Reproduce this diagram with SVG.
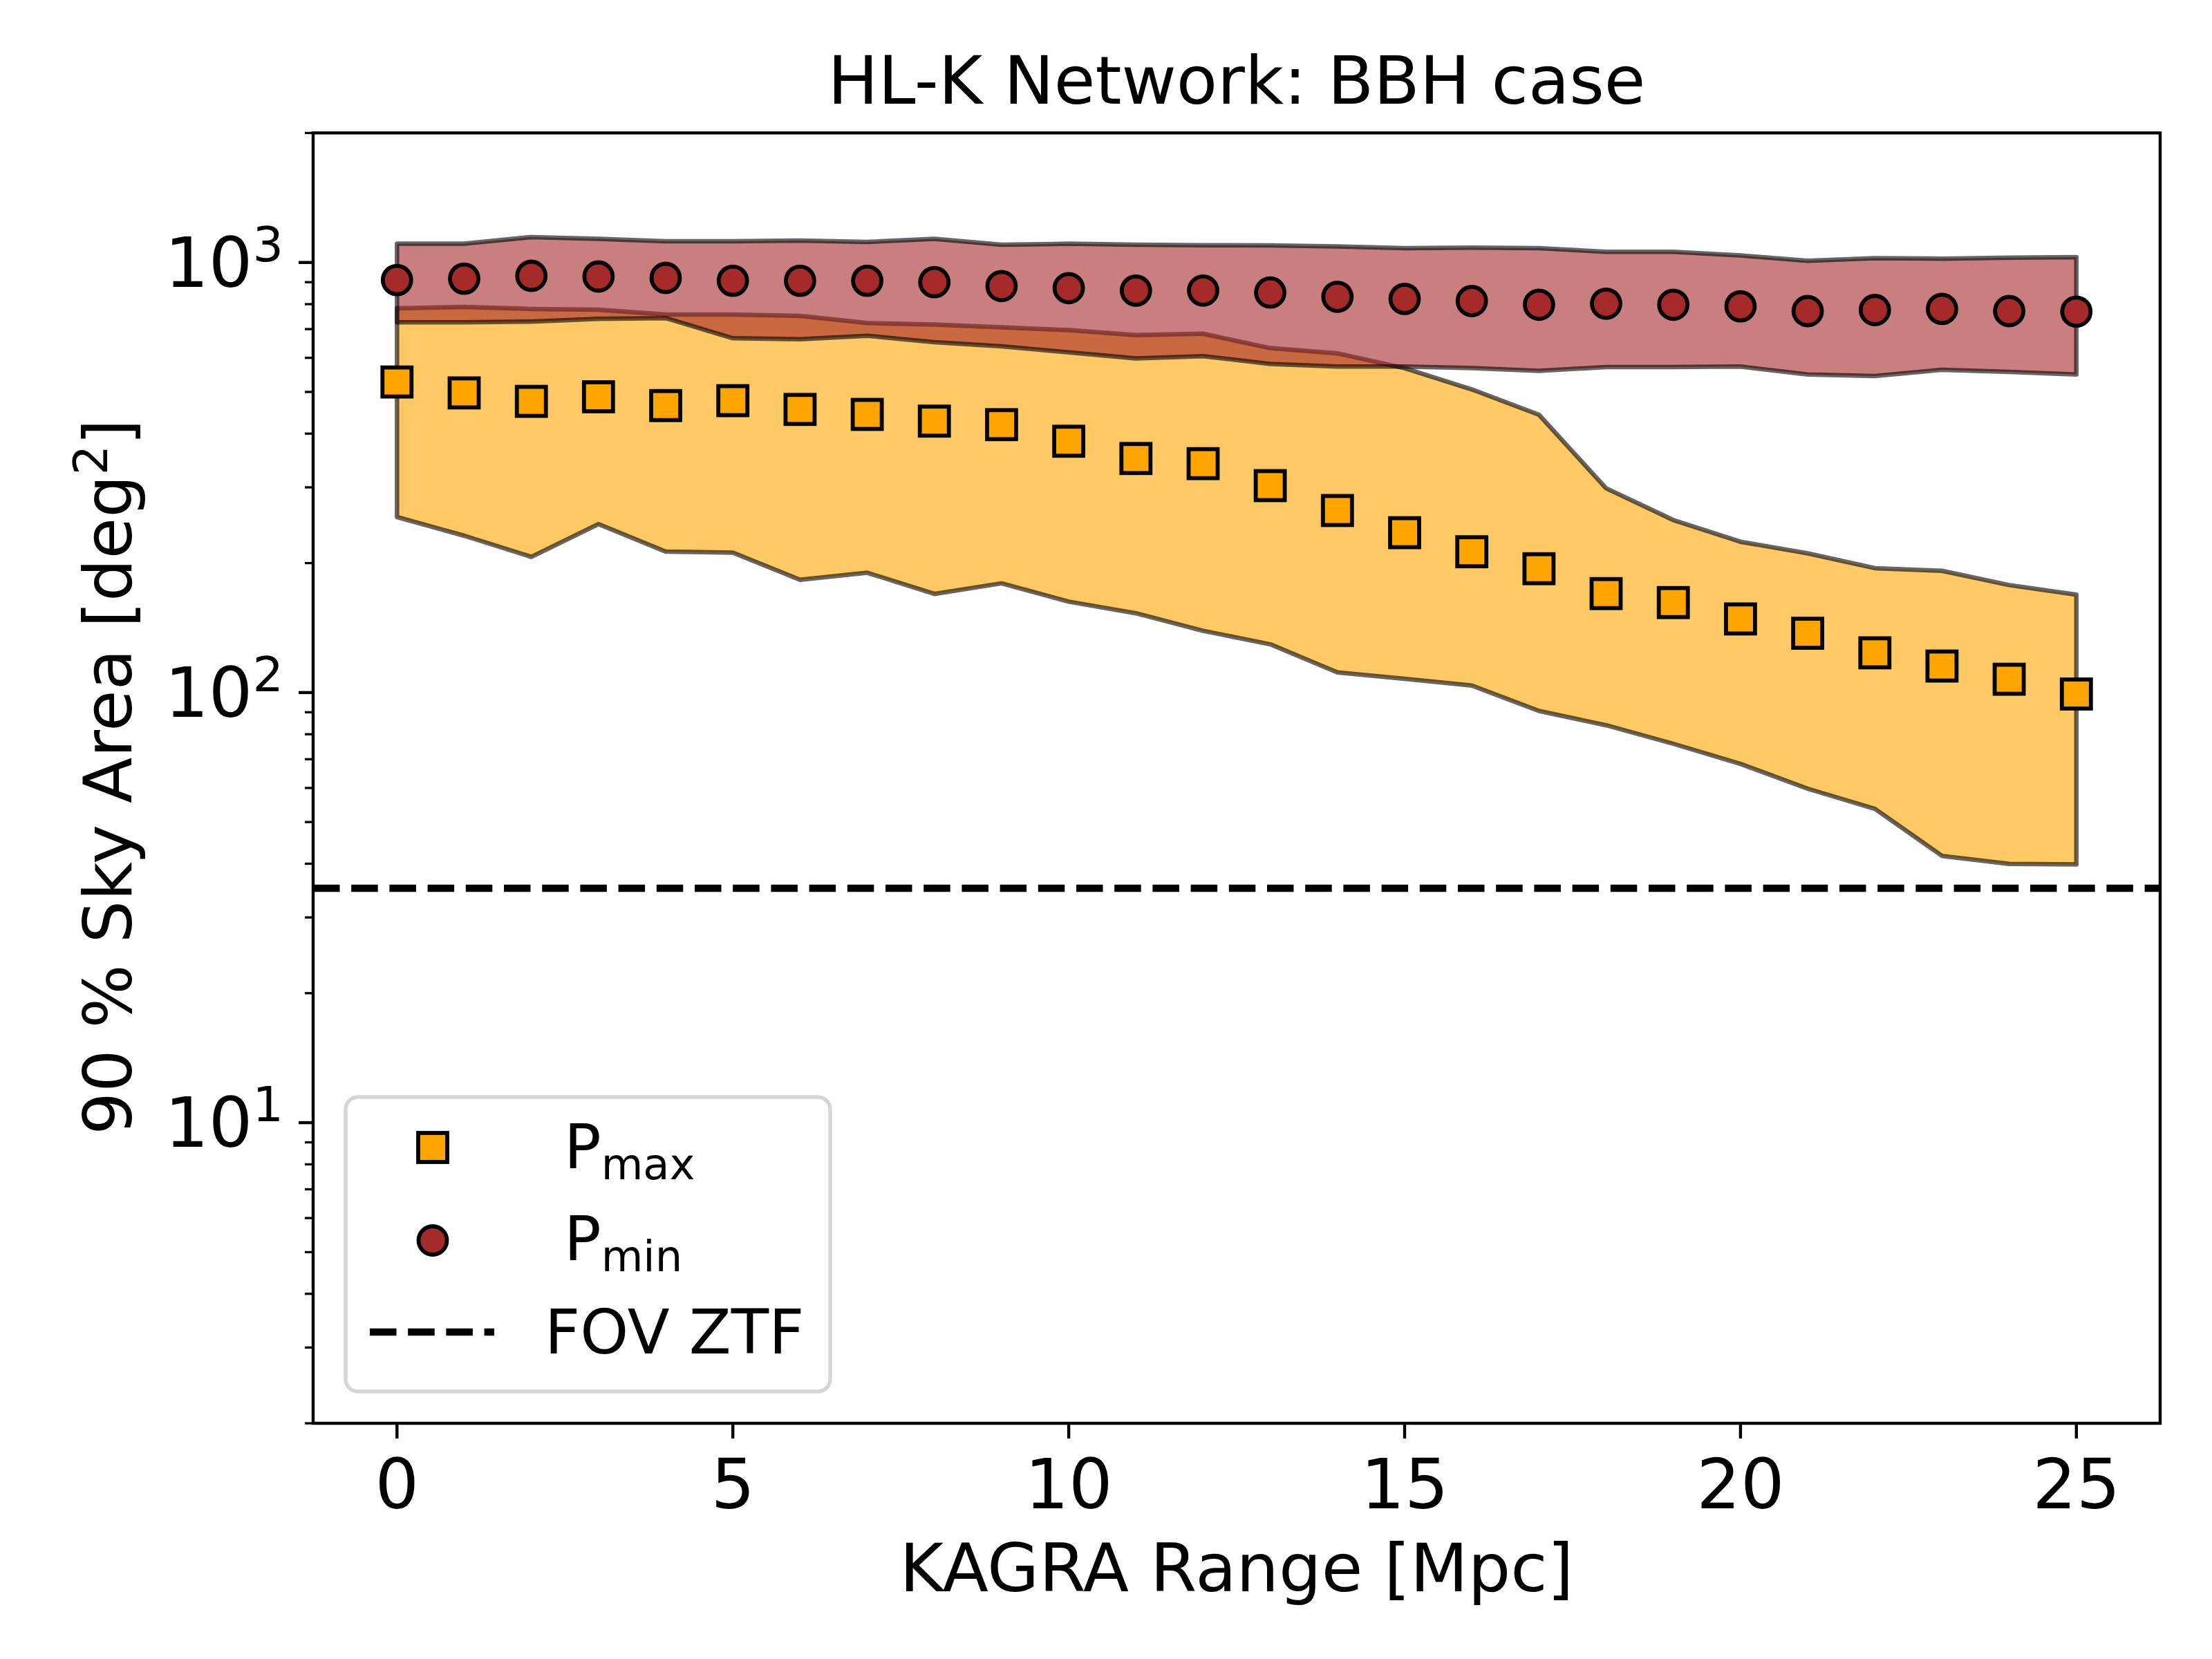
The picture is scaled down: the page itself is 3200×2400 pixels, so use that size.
<svg xmlns="http://www.w3.org/2000/svg" width="3200" height="2400" viewBox="0 0 3200 2400">
<style>
text{font-family:"DejaVu Sans","Liberation Sans",sans-serif;fill:#000}
.lbl{font-size:97px}
.tk{font-size:100px}
.lg{font-size:89px}
.mj{stroke:#000;stroke-width:4.4}
.mn{stroke:#000;stroke-width:3.3}
.band{stroke:#000;stroke-opacity:0.6;stroke-width:6.5;stroke-linejoin:round}
.sq{fill:#ffa500;stroke:#000;stroke-width:5.8}
.ci{fill:#a52a2a;stroke:#000;stroke-width:5.8}
</style>
<rect width="3200" height="2400" fill="#fff"/>
<g id="bands">
<polygon class="band" fill="#ffa500" fill-opacity="0.6" points="574.3,445.9 671.5,443.9 768.7,446.9 865.8,448.0 963.0,455.1 1060.2,455.1 1157.4,457.1 1254.6,467.3 1351.7,469.4 1448.9,473.5 1546.1,477.6 1643.3,484.7 1740.5,482.8 1837.6,503.6 1934.8,511.2 2032.0,532.6 2129.2,563.3 2226.4,600.0 2323.5,706.4 2420.7,752.3 2517.9,783.7 2615.1,800.5 2712.3,821.9 2809.4,825.8 2906.6,846.4 3003.8,860.2 3003.8,1250.5 2906.6,1249.7 2809.4,1238.2 2712.3,1170.1 2615.1,1141.0 2517.9,1105.1 2420.7,1076.0 2323.5,1049.2 2226.4,1028.5 2129.2,991.8 2032.0,981.9 1934.8,972.7 1837.6,932.1 1740.5,912.6 1643.3,887.2 1546.1,870.4 1448.9,843.9 1351.7,859.2 1254.6,828.6 1157.4,838.8 1060.2,799.5 963.0,798.0 865.8,758.2 768.7,805.6 671.5,775.0 574.3,748.0"/>
<polygon class="band" fill="#a52a2a" fill-opacity="0.6" points="574.3,352.6 671.5,352.6 768.7,342.9 865.8,345.4 963.0,349.0 1060.2,349.0 1157.4,348.0 1254.6,350.0 1351.7,345.4 1448.9,354.1 1546.1,352.6 1643.3,354.1 1740.5,354.7 1837.6,355.1 1934.8,356.6 2032.0,358.9 2129.2,358.2 2226.4,358.9 2323.5,364.3 2420.7,364.3 2517.9,369.6 2615.1,377.3 2712.3,373.5 2809.4,374.2 2906.6,372.7 3003.8,371.9 3003.8,541.8 2906.6,538.0 2809.4,534.9 2712.3,544.1 2615.1,541.8 2517.9,530.3 2420.7,531.1 2323.5,531.1 2226.4,536.5 2129.2,532.6 2032.0,530.3 1934.8,530.3 1837.6,526.5 1740.5,515.2 1643.3,518.4 1546.1,509.7 1448.9,501.0 1351.7,494.9 1254.6,485.7 1157.4,490.8 1060.2,489.3 963.0,460.2 865.8,461.2 768.7,465.3 671.5,466.3 574.3,466.3"/>
</g>
<g id="fov-line">
<line x1="453" y1="1285" x2="3125" y2="1285" stroke="#000" stroke-width="10.4" stroke-dasharray="38.5 16.7"/>
</g>
<g id="pmax-points">
<rect class="sq" x="553.3" y="531.6" width="42" height="42"/>
<rect class="sq" x="650.5" y="547.4" width="42" height="42"/>
<rect class="sq" x="747.7" y="559.6" width="42" height="42"/>
<rect class="sq" x="844.8" y="553.0" width="42" height="42"/>
<rect class="sq" x="942.0" y="565.7" width="42" height="42"/>
<rect class="sq" x="1039.2" y="558.6" width="42" height="42"/>
<rect class="sq" x="1136.4" y="571.3" width="42" height="42"/>
<rect class="sq" x="1233.6" y="578.5" width="42" height="42"/>
<rect class="sq" x="1330.7" y="588.2" width="42" height="42"/>
<rect class="sq" x="1427.9" y="593.3" width="42" height="42"/>
<rect class="sq" x="1525.1" y="617.3" width="42" height="42"/>
<rect class="sq" x="1622.3" y="642.3" width="42" height="42"/>
<rect class="sq" x="1719.5" y="649.7" width="42" height="42"/>
<rect class="sq" x="1816.6" y="681.5" width="42" height="42"/>
<rect class="sq" x="1913.8" y="717.5" width="42" height="42"/>
<rect class="sq" x="2011.0" y="749.6" width="42" height="42"/>
<rect class="sq" x="2108.2" y="777.2" width="42" height="42"/>
<rect class="sq" x="2205.4" y="801.7" width="42" height="42"/>
<rect class="sq" x="2302.5" y="837.7" width="42" height="42"/>
<rect class="sq" x="2399.7" y="850.7" width="42" height="42"/>
<rect class="sq" x="2496.9" y="874.4" width="42" height="42"/>
<rect class="sq" x="2594.1" y="895.1" width="42" height="42"/>
<rect class="sq" x="2691.3" y="923.4" width="42" height="42"/>
<rect class="sq" x="2788.4" y="942.5" width="42" height="42"/>
<rect class="sq" x="2885.6" y="961.6" width="42" height="42"/>
<rect class="sq" x="2982.8" y="983.0" width="42" height="42"/>
</g>
<g id="pmin-points">
<circle class="ci" cx="574.3" cy="405.1" r="20.5"/>
<circle class="ci" cx="671.5" cy="403.1" r="20.5"/>
<circle class="ci" cx="768.7" cy="399.0" r="20.5"/>
<circle class="ci" cx="865.8" cy="400.0" r="20.5"/>
<circle class="ci" cx="963.0" cy="402.0" r="20.5"/>
<circle class="ci" cx="1060.2" cy="406.1" r="20.5"/>
<circle class="ci" cx="1157.4" cy="406.1" r="20.5"/>
<circle class="ci" cx="1254.6" cy="406.1" r="20.5"/>
<circle class="ci" cx="1351.7" cy="408.2" r="20.5"/>
<circle class="ci" cx="1448.9" cy="413.8" r="20.5"/>
<circle class="ci" cx="1546.1" cy="416.8" r="20.5"/>
<circle class="ci" cx="1643.3" cy="420.4" r="20.5"/>
<circle class="ci" cx="1740.5" cy="420.3" r="20.5"/>
<circle class="ci" cx="1837.6" cy="423.2" r="20.5"/>
<circle class="ci" cx="1934.8" cy="429.3" r="20.5"/>
<circle class="ci" cx="2032.0" cy="432.4" r="20.5"/>
<circle class="ci" cx="2129.2" cy="435.5" r="20.5"/>
<circle class="ci" cx="2226.4" cy="440.8" r="20.5"/>
<circle class="ci" cx="2323.5" cy="439.3" r="20.5"/>
<circle class="ci" cx="2420.7" cy="440.8" r="20.5"/>
<circle class="ci" cx="2517.9" cy="443.1" r="20.5"/>
<circle class="ci" cx="2615.1" cy="450.0" r="20.5"/>
<circle class="ci" cx="2712.3" cy="448.5" r="20.5"/>
<circle class="ci" cx="2809.4" cy="446.9" r="20.5"/>
<circle class="ci" cx="2906.6" cy="450.0" r="20.5"/>
<circle class="ci" cx="3003.8" cy="450.8" r="20.5"/>
</g>
<g id="axes">
<rect x="453" y="192.3" width="2672" height="1866.7" fill="none" stroke="#000" stroke-width="4.4"/>
<g id="y-ticks">
<line class="mj" x1="432" y1="379.7" x2="453" y2="379.7"/>
<line class="mj" x1="432" y1="1001.9" x2="453" y2="1001.9"/>
<line class="mj" x1="432" y1="1624.1" x2="453" y2="1624.1"/>
<line class="mn" x1="441" y1="2059" x2="453" y2="2059"/>
<line class="mn" x1="441" y1="1949.4" x2="453" y2="1949.4"/>
<line class="mn" x1="441" y1="1871.7" x2="453" y2="1871.7"/>
<line class="mn" x1="441" y1="1811.4" x2="453" y2="1811.4"/>
<line class="mn" x1="441" y1="1762.1" x2="453" y2="1762.1"/>
<line class="mn" x1="441" y1="1720.5" x2="453" y2="1720.5"/>
<line class="mn" x1="441" y1="1684.4" x2="453" y2="1684.4"/>
<line class="mn" x1="441" y1="1652.6" x2="453" y2="1652.6"/>
<line class="mn" x1="441" y1="1436.8" x2="453" y2="1436.8"/>
<line class="mn" x1="441" y1="1327.2" x2="453" y2="1327.2"/>
<line class="mn" x1="441" y1="1249.5" x2="453" y2="1249.5"/>
<line class="mn" x1="441" y1="1189.2" x2="453" y2="1189.2"/>
<line class="mn" x1="441" y1="1139.9" x2="453" y2="1139.9"/>
<line class="mn" x1="441" y1="1098.3" x2="453" y2="1098.3"/>
<line class="mn" x1="441" y1="1062.2" x2="453" y2="1062.2"/>
<line class="mn" x1="441" y1="1030.4" x2="453" y2="1030.4"/>
<line class="mn" x1="441" y1="814.6" x2="453" y2="814.6"/>
<line class="mn" x1="441" y1="705.0" x2="453" y2="705.0"/>
<line class="mn" x1="441" y1="627.3" x2="453" y2="627.3"/>
<line class="mn" x1="441" y1="567.0" x2="453" y2="567.0"/>
<line class="mn" x1="441" y1="517.7" x2="453" y2="517.7"/>
<line class="mn" x1="441" y1="476.1" x2="453" y2="476.1"/>
<line class="mn" x1="441" y1="440.0" x2="453" y2="440.0"/>
<line class="mn" x1="441" y1="408.2" x2="453" y2="408.2"/>
<line class="mn" x1="441" y1="192.4" x2="453" y2="192.4"/>
</g>
<g id="x-ticks">
<line class="mj" x1="574.3" y1="2059" x2="574.3" y2="2081"/>
<line class="mj" x1="1060.2" y1="2059" x2="1060.2" y2="2081"/>
<line class="mj" x1="1546.1" y1="2059" x2="1546.1" y2="2081"/>
<line class="mj" x1="2032.0" y1="2059" x2="2032.0" y2="2081"/>
<line class="mj" x1="2517.9" y1="2059" x2="2517.9" y2="2081"/>
<line class="mj" x1="3003.8" y1="2059" x2="3003.8" y2="2081"/>
</g>
<g id="tick-labels">
<text class="tk" x="574.3" y="2182" text-anchor="middle">0</text>
<text class="tk" x="1060.2" y="2182" text-anchor="middle">5</text>
<text class="tk" x="1546.1" y="2182" text-anchor="middle">10</text>
<text class="tk" x="2032.0" y="2182" text-anchor="middle">15</text>
<text class="tk" x="2517.9" y="2182" text-anchor="middle">20</text>
<text class="tk" x="3003.8" y="2182" text-anchor="middle">25</text>
<text class="tk" x="410" y="415" text-anchor="end">10<tspan font-size="70" dy="-37">3</tspan></text>
<text class="tk" x="410" y="1037.2" text-anchor="end">10<tspan font-size="70" dy="-37">2</tspan></text>
<text class="tk" x="410" y="1659.4" text-anchor="end">10<tspan font-size="70" dy="-37">1</tspan></text>
</g>
<text id="title" class="lbl" x="1789" y="150" text-anchor="middle">HL-K Network: BBH case</text>
<text id="xlabel" class="lbl" x="1789" y="2302" text-anchor="middle">KAGRA Range [Mpc]</text>
<text id="ylabel" class="lbl" transform="translate(190,1124) rotate(-90)" text-anchor="middle">90 % Sky Area [deg<tspan font-size="68" dy="-35">2</tspan><tspan dy="35">]</tspan></text>
</g>
<g id="legend">
<rect x="500" y="1587" width="701" height="426" rx="17.8" ry="17.8" fill="#fff" fill-opacity="0.8" stroke="#ccc" stroke-opacity="0.8" stroke-width="5.5"/>
<rect class="sq" x="605" y="1639" width="42" height="42"/>
<circle class="ci" cx="626" cy="1794.5" r="20.5"/>
<line x1="535" y1="1927" x2="715" y2="1927" stroke="#000" stroke-width="10.4" stroke-dasharray="38.5 16.7"/>
<text class="lg" x="816" y="1690">P<tspan font-size="62.3" dy="16">max</tspan></text>
<text class="lg" x="816" y="1823">P<tspan font-size="62.3" dy="16">min</tspan></text>
<text class="lg" x="788" y="1957.7">FOV ZTF</text>
</g>
</svg>
